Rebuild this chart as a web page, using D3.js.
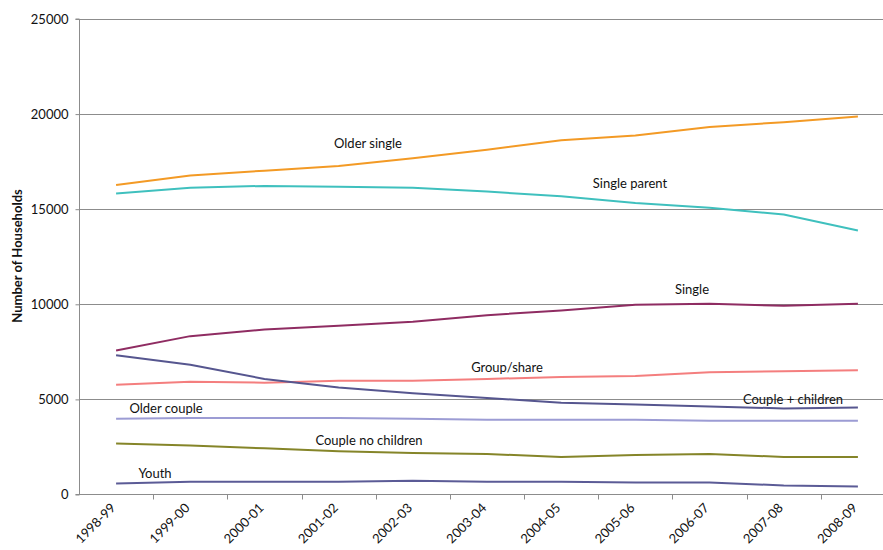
<!DOCTYPE html>
<html>
<head>
<meta charset="utf-8">
<script src="https://cdn.jsdelivr.net/npm/d3@7"></script>
<style>
  html, body { margin: 0; padding: 0; background: #fff; }
  svg { display: block; font-family: Lato, "Open Sans", sans-serif; }
</style>
</head>
<body>
<svg id="chart" width="883" height="550"></svg>
<script>
// Financial years on the category axis
const years = ["1998-99","1999-00","2000-01","2001-02","2002-03","2003-04",
               "2004-05","2005-06","2006-07","2007-08","2008-09"];

// Household counts per household type
const olderSingle      = [16250,16750,17000,17250,17650,18100,18600,18850,19300,19550,19850];
const singleParent     = [15800,16100,16200,16150,16100,15900,15650,15300,15050,14700,13850];
const single           = [7550,8300,8650,8850,9050,9400,9650,9950,10000,9900,10000];
const groupShare       = [5750,5900,5850,5950,5950,6050,6150,6200,6400,6450,6500];
const coupleChildren   = [7300,6800,6050,5600,5300,5050,4800,4700,4600,4500,4550];
const olderCouple      = [3950,4000,4000,4000,3950,3900,3900,3900,3850,3850,3850];
const coupleNoChildren = [2650,2550,2400,2250,2150,2100,1950,2050,2100,1950,1950];
const youth            = [550,650,650,650,700,650,650,600,600,450,400];

const yTicks = [0,5000,10000,15000,20000,25000];

const series = [
  { name: "Older single",       values: olderSingle,      color: "#F39A25", lx: 368, ly: 143 },
  { name: "Single parent",      values: singleParent,     color: "#3FC0BE", lx: 630, ly: 183 },
  { name: "Single",             values: single,           color: "#8F2C62", lx: 692, ly: 289 },
  { name: "Group/share",        values: groupShare,       color: "#F47E7E", lx: 507, ly: 367 },
  { name: "Couple + children",  values: coupleChildren,   color: "#56568F", lx: 793, ly: 399 },
  { name: "Older couple",       values: olderCouple,      color: "#9C9CD4", lx: 166, ly: 408 },
  { name: "Couple no children", values: coupleNoChildren, color: "#858529", lx: 369, ly: 440 },
  { name: "Youth",              values: youth,            color: "#5B5B96", lx: 155, ly: 473 }
];

const svg = d3.select("#chart");
const W = 883;

const x = d3.scaleBand().domain(years).range([79, 895]).paddingInner(0).paddingOuter(0);
const y = d3.scaleLinear().domain([0, 25000]).range([494, 18.5]);
const cx = d => x(d) + x.bandwidth() / 2;

// Horizontal gridlines
svg.append("g")
  .selectAll("line")
  .data(yTicks.filter(t => t > 0))
  .join("line")
  .attr("x1", 79).attr("x2", W)
  .attr("y1", d => Math.round(y(d)) + 0.5).attr("y2", d => Math.round(y(d)) + 0.5)
  .attr("stroke", "#8c8c8c").attr("stroke-width", 1);

// Y axis
const yAxis = svg.append("g")
  .attr("transform", "translate(79.5,0.5)")
  .call(d3.axisLeft(y).tickValues(yTicks).tickSize(4).tickPadding(7).tickFormat(d3.format("d")));
yAxis.select(".domain").attr("stroke", "#8c8c8c").attr("d", `M-4,${y(0)}H0V${y(25000)}H-4`);
yAxis.selectAll(".tick line").attr("stroke", "#8c8c8c");
yAxis.selectAll(".tick text").attr("font-size", 13).attr("fill", "#111").attr("font-family", "Lato, sans-serif");

// X axis with ticks at category boundaries
const xAxisG = svg.append("g").attr("transform", `translate(0,${Math.round(y(0)) + 0.5})`);
xAxisG.append("line").attr("x1", 79).attr("x2", W).attr("stroke", "#8c8c8c");
xAxisG.selectAll("line.tk")
  .data(years.slice(1))
  .join("line").attr("class", "tk")
  .attr("x1", d => Math.round(x(d)) + 0.5).attr("x2", d => Math.round(x(d)) + 0.5)
  .attr("y1", 0).attr("y2", 5)
  .attr("stroke", "#8c8c8c");
xAxisG.selectAll("text")
  .data(years)
  .join("text")
  .attr("transform", d => `translate(${cx(d) - 3},${11}) rotate(-45)`)
  .attr("text-anchor", "end")
  .attr("dy", "0.35em")
  .attr("font-size", 13)
  .attr("fill", "#111")
  .text(d => d);

// Y axis title
svg.append("text")
  .attr("transform", "translate(17,256) rotate(-90)")
  .attr("text-anchor", "middle")
  .attr("dy", "0.35em")
  .attr("font-size", 13)
  .attr("font-weight", "bold")
  .attr("fill", "#111")
  .text("Number of Households");

// Series lines
const line = d3.line()
  .x((d, i) => cx(years[i]))
  .y(d => y(d));

svg.append("g")
  .selectAll("path")
  .data(series)
  .join("path")
  .attr("d", s => line(s.values))
  .attr("fill", "none")
  .attr("stroke", s => s.color)
  .attr("stroke-width", 2)
  .attr("stroke-linejoin", "round");

// Inline series labels
svg.append("g")
  .selectAll("text")
  .data(series)
  .join("text")
  .attr("x", s => s.lx).attr("y", s => s.ly)
  .attr("text-anchor", "middle")
  .attr("dy", "0.35em")
  .attr("font-size", 13)
  .attr("fill", "#111")
  .text(s => s.name);
</script>
</body>
</html>
